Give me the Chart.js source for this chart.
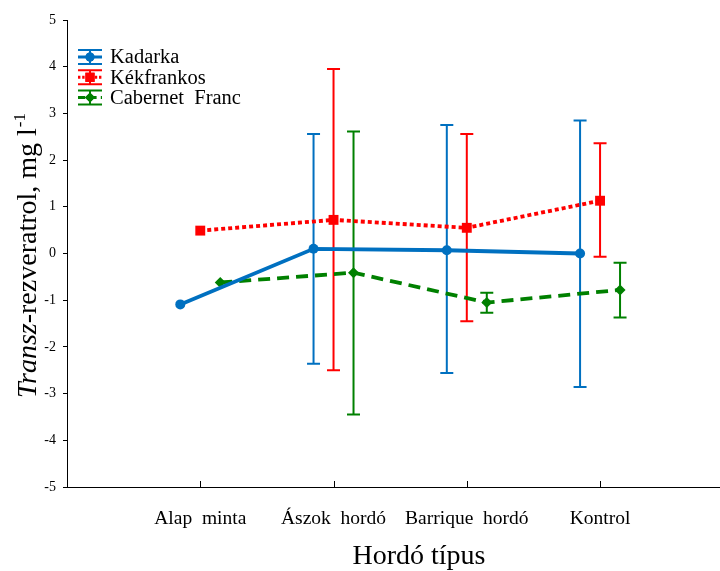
<!DOCTYPE html>
<html>
<head>
<meta charset="utf-8">
<script src="https://cdn.jsdelivr.net/npm/chart.js@4.4.0/dist/chart.umd.min.js"></script>
<style>
  html, body { margin: 0; padding: 0; background: #fff; }
</style>
</head>
<body>
<canvas id="grafik" width="720" height="571"></canvas>
<script>
// --- Adatok ---
const kategoriak = ['Alap minta', 'Ászok hordó', 'Barrique hordó', 'Kontrol'];
const yTickek = [5, 4, 3, 2, 1, 0, -1, -2, -3, -4, -5];

const kadarka = [-1.09, 0.10, 0.07, 0.00];
const kadarkaAlso = [null, -2.36, -2.56, -2.86];
const kadarkaFelso = [null, 2.56, 2.75, 2.85];

const kekfrankos = [0.49, 0.72, 0.55, 1.13];
const kekfrankosAlso = [null, -2.50, -1.45, -0.07];
const kekfrankosFelso = [null, 3.95, 2.56, 2.36];

const cabernet = [-0.62, -0.41, -1.05, -0.78];
const cabernetAlso = [null, -3.45, -1.27, -1.37];
const cabernetFelso = [null, 2.61, -0.84, -0.20];

const SERIF = "'Liberation Serif', 'Times New Roman', serif";

const sorozatok = [
    { nev: 'Kadarka', ertek: kadarka, also: kadarkaAlso, felso: kadarkaFelso, eltolas: -0.15,
      szin: '#0070C0', dash: [], pont: 'circle', r: 5 },
    { nev: 'Kékfrankos', ertek: kekfrankos, also: kekfrankosAlso, felso: kekfrankosFelso, eltolas: 0,
      szin: '#FF0000', dash: [4, 3], pont: 'rect', r: 7 },
    { nev: 'Cabernet Franc', ertek: cabernet, also: cabernetAlso, felso: cabernetFelso, eltolas: 0.15,
      szin: '#008000', dash: [12, 7], pont: 'rectRot', r: 5.5 }
];

// --- Hibasávok, tengelycímek, jelmagyarázat ---
const rajzPlugin = {
    id: 'rajzPlugin',
    beforeDatasetsDraw(chart) {
        const { ctx, scales: { x, y } } = chart;
        ctx.save();
        ctx.lineWidth = 2;
        sorozatok.forEach(s => {
            ctx.strokeStyle = s.szin;
            s.ertek.forEach((v, i) => {
                if (s.also[i] === null) return;
                const px = x.getPixelForValue(i + s.eltolas);
                const y1 = y.getPixelForValue(s.also[i]);
                const y2 = y.getPixelForValue(s.felso[i]);
                ctx.beginPath();
                ctx.moveTo(px, y1); ctx.lineTo(px, y2);
                ctx.moveTo(px - 6.5, y1); ctx.lineTo(px + 6.5, y1);
                ctx.moveTo(px - 6.5, y2); ctx.lineTo(px + 6.5, y2);
                ctx.stroke();
            });
        });
        ctx.restore();
    },
    afterDraw(chart) {
        const { ctx, scales: { x }, chartArea } = chart;
        ctx.save();
        // x tengely befelé mutató osztásai
        ctx.strokeStyle = '#000';
        ctx.lineWidth = 1;
        kategoriak.forEach((_, i) => {
            const px = Math.round(x.getPixelForValue(i)) + 0.5;
            ctx.beginPath();
            ctx.moveTo(px, chartArea.bottom);
            ctx.lineTo(px, chartArea.bottom - 6);
            ctx.stroke();
        });

        // jelmagyarázat
        ctx.textBaseline = 'middle';
        ctx.font = '20.5px ' + SERIF;
        sorozatok.forEach((s, k) => {
            const cy = 57 + k * 20.3;
            const x0 = 78, x1 = 102, cx = 90;
            ctx.strokeStyle = s.szin;
            ctx.fillStyle = s.szin;
            ctx.lineWidth = 2;
            ctx.setLineDash([]);
            ctx.beginPath();
            ctx.moveTo(x0, cy - 7); ctx.lineTo(x1, cy - 7);
            ctx.moveTo(x0, cy + 7); ctx.lineTo(x1, cy + 7);
            ctx.moveTo(cx, cy - 7); ctx.lineTo(cx, cy + 7);
            ctx.stroke();
            ctx.lineWidth = 3;
            ctx.setLineDash(s.dash.map(d => d * 0.6));
            ctx.beginPath();
            ctx.moveTo(x0, cy); ctx.lineTo(x1, cy);
            ctx.stroke();
            ctx.setLineDash([]);
            Chart.helpers.drawPoint(ctx, { pointStyle: s.pont, radius: s.r - 0.5, borderWidth: 0 }, cx, cy);
            ctx.fill();
            ctx.fillStyle = '#000';
            ctx.fillText(s.nev.replace(' ', '\u2002'), 110, cy + 1);
        });

        // x tengely címe
        ctx.textAlign = 'center';
        ctx.textBaseline = 'alphabetic';
        ctx.font = '28px ' + SERIF;
        ctx.fillText('Hordó típus', 419, 564);

        // y tengely címe
        ctx.translate(36, 256);
        ctx.rotate(-Math.PI / 2);
        ctx.textAlign = 'left';
        const r1 = 'Transz', r2 = '-rezveratrol, mg l', r3 = '-1';
        ctx.font = 'italic 28px ' + SERIF;
        const w1 = ctx.measureText(r1).width;
        ctx.font = '28px ' + SERIF;
        const w2 = ctx.measureText(r2).width;
        ctx.font = '17px ' + SERIF;
        const w3 = ctx.measureText(r3).width;
        let pos = -(w1 + w2 + w3) / 2;
        ctx.font = 'italic 28px ' + SERIF;
        ctx.fillText(r1, pos, 0); pos += w1;
        ctx.font = '28px ' + SERIF;
        ctx.fillText(r2, pos, 0); pos += w2;
        ctx.font = '17px ' + SERIF;
        ctx.fillText(r3, pos + 1, -11);
        ctx.restore();
    }
};

const ctx = document.getElementById('grafik').getContext('2d');
new Chart(ctx, {
    type: 'line',
    data: {
        datasets: sorozatok.map(s => ({
            label: s.nev,
            data: s.ertek.map((v, i) => ({ x: i + s.eltolas, y: v })),
            borderColor: s.szin,
            backgroundColor: s.szin,
            borderWidth: 3.8,
            borderDash: s.dash,
            pointStyle: s.pont,
            pointRadius: s.r,
            pointHoverRadius: s.r,
            pointBorderWidth: 0,
            tension: 0,
            fill: false
        }))
    },
    options: {
        responsive: false,
        animation: false,
        devicePixelRatio: 1,
        layout: { autoPadding: false, padding: { top: 20, right: 0, left: 0, bottom: 0 } },
        plugins: {
            legend: { display: false },
            tooltip: { enabled: false }
        },
        scales: {
            x: {
                type: 'linear',
                min: -1,
                max: 3.9,
                afterBuildTicks: s => { s.ticks = kategoriak.map((_, i) => ({ value: i })); },
                afterFit: s => { s.height = 84; s.paddingLeft = 0; s.paddingRight = 0; },
                ticks: {
                    callback: v => (kategoriak[v] ?? '').replace(' ', '\u2002'),
                    color: '#000',
                    font: { family: SERIF, size: 19.5 },
                    padding: 12,
                    maxRotation: 0,
                    autoSkip: false
                },
                grid: { display: false },
                border: { display: true, color: '#000', width: 1 }
            },
            y: {
                min: -5,
                max: 5,
                afterBuildTicks: s => { s.ticks = yTickek.map(v => ({ value: v })); },
                afterFit: s => { s.width = 67; },
                ticks: {
                    color: '#000',
                    font: { family: SERIF, size: 14 },
                    padding: 7
                },
                grid: { drawOnChartArea: false, drawTicks: true, tickLength: 4, color: '#000' },
                border: { display: true, color: '#000', width: 1 }
            }
        }
    },
    plugins: [rajzPlugin]
});
</script>
</body>
</html>
